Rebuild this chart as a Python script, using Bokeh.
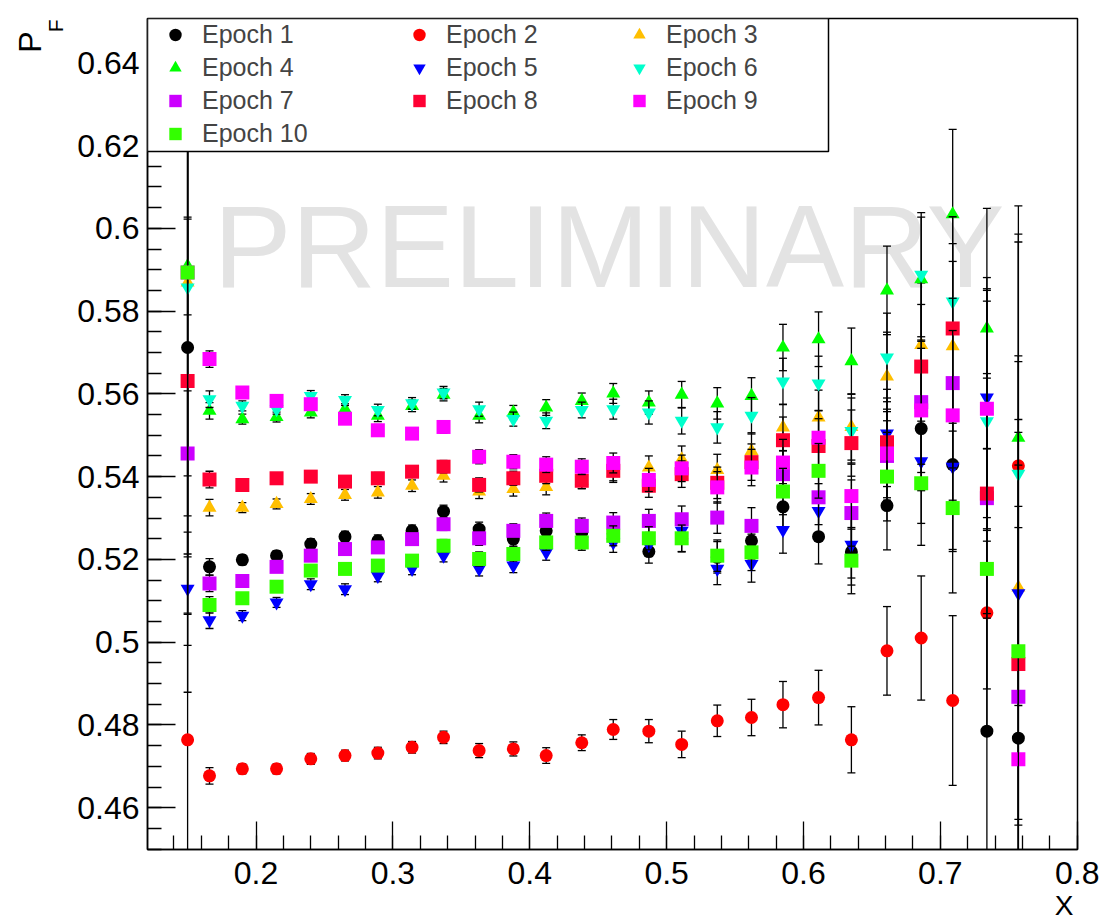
import numpy as np
from bokeh.plotting import figure
from bokeh.models import (Range1d, SingleIntervalTicker, CustomJSTickFormatter, ColumnDataSource,
                          Legend, LegendItem, Label, BoxAnnotation, Title)
from bokeh.embed import file_html
from bokeh.resources import INLINE

# ---------------- data ----------------
x_values = [0.150, 0.166, 0.190, 0.215, 0.240, 0.265, 0.289, 0.314, 0.337, 0.363,
            0.388, 0.412, 0.438, 0.461, 0.487, 0.511, 0.537, 0.562, 0.585, 0.611,
            0.635, 0.661, 0.686, 0.709, 0.734, 0.757]

epoch_labels = ["Epoch 1", "Epoch 2", "Epoch 3", "Epoch 4", "Epoch 5",
                "Epoch 6", "Epoch 7", "Epoch 8", "Epoch 9", "Epoch 10"]

pf_epoch1 = [0.5712, 0.5182, 0.5199, 0.5209, 0.5237, 0.5255, 0.5245, 0.5269, 0.5316, 0.5273,
             0.5249, 0.5269, 0.5265, 0.5262, 0.5219, 0.5250, 0.5205, 0.5245, 0.5327, 0.5255,
             0.5218, 0.5330, 0.5516, 0.5429, 0.4785, 0.4768]
pf_epoch2 = [0.4764, 0.4677, 0.4694, 0.4694, 0.4718, 0.4726, 0.4732, 0.4746, 0.4770, 0.4738,
             0.4742, 0.4726, 0.4757, 0.4789, 0.4785, 0.4753, 0.4810, 0.4818, 0.4849, 0.4866,
             0.4764, 0.4979, 0.5010, 0.4859, 0.5071, 0.5426]
pf_epoch3 = [0.5869, 0.5325, 0.5325, 0.5334, 0.5346, 0.5356, 0.5362, 0.5378, 0.5402, 0.5364,
             0.5370, 0.5375, 0.5390, 0.5410, 0.5422, 0.5442, 0.5416, 0.5462, 0.5519, 0.5543,
             0.5520, 0.5642, 0.5718, 0.5715, 0.5560, 0.5132]
pf_epoch4 = [0.5909, 0.5559, 0.5539, 0.5544, 0.5555, 0.5563, 0.5547, 0.5571, 0.5598, 0.5547,
             0.5555, 0.5567, 0.5583, 0.5601, 0.5579, 0.5598, 0.5577, 0.5595, 0.5712, 0.5732,
             0.5679, 0.5850, 0.5877, 0.6034, 0.5758, 0.5494]
pf_epoch5 = [0.5129, 0.5053, 0.5064, 0.5096, 0.5140, 0.5128, 0.5160, 0.5177, 0.5209, 0.5177,
             0.5185, 0.5217, 0.5245, 0.5241, 0.5235, 0.5269, 0.5177, 0.5189, 0.5271, 0.5317,
             0.5235, 0.5504, 0.5437, 0.5424, 0.5591, 0.5118]
pf_epoch6 = [0.5857, 0.5587, 0.5571, 0.5563, 0.5595, 0.5585, 0.5561, 0.5577, 0.5603, 0.5563,
             0.5539, 0.5535, 0.5561, 0.5563, 0.5555, 0.5535, 0.5519, 0.5547, 0.5630, 0.5625,
             0.5510, 0.5688, 0.5888, 0.5823, 0.5534, 0.5407]
pf_epoch7 = [0.5456, 0.5142, 0.5148, 0.5182, 0.5209, 0.5225, 0.5229, 0.5249, 0.5285, 0.5251,
             0.5269, 0.5293, 0.5281, 0.5289, 0.5293, 0.5297, 0.5301, 0.5281, 0.5406, 0.5350,
             0.5312, 0.5450, 0.5580, 0.5626, 0.5348, 0.4868]
pf_epoch8 = [0.5631, 0.5393, 0.5380, 0.5396, 0.5400, 0.5388, 0.5396, 0.5412, 0.5424, 0.5380,
             0.5396, 0.5402, 0.5390, 0.5414, 0.5378, 0.5406, 0.5385, 0.5435, 0.5488, 0.5474,
             0.5481, 0.5483, 0.5666, 0.5758, 0.5359, 0.4947]
pf_epoch9 = [0.5893, 0.5684, 0.5603, 0.5583, 0.5575, 0.5540, 0.5512, 0.5504, 0.5520, 0.5448,
             0.5436, 0.5429, 0.5424, 0.5433, 0.5392, 0.5420, 0.5374, 0.5422, 0.5434, 0.5494,
             0.5353, 0.5456, 0.5560, 0.5548, 0.5564, 0.4717]
pf_epoch10 = [0.5893, 0.5090, 0.5106, 0.5134, 0.5173, 0.5177, 0.5185, 0.5197, 0.5233, 0.5201,
              0.5213, 0.5241, 0.5241, 0.5257, 0.5251, 0.5251, 0.5209, 0.5217, 0.5364, 0.5414,
              0.5197, 0.5400, 0.5384, 0.5324, 0.5177, 0.4978]

# statistical error per x bin (same for every epoch), first bin given per epoch
err_by_x = [0.0035, 0.0020, 0.0012, 0.0012, 0.0013, 0.0013, 0.0014, 0.0014, 0.0015, 0.0017,
            0.0017, 0.0019, 0.0019, 0.0024, 0.0028, 0.0032, 0.0038, 0.0044, 0.0056, 0.0066,
            0.0080, 0.0107, 0.0150, 0.0205, 0.0290, 0.0560]
err_first_bin = [0.0310, 0.1600, 0.0656, 0.0118, 0.0137, 0.0651, 0.0151, 0.0564, 0.0823, 0.1014]

all_pf = [pf_epoch1, pf_epoch2, pf_epoch3, pf_epoch4, pf_epoch5,
          pf_epoch6, pf_epoch7, pf_epoch8, pf_epoch9, pf_epoch10]

marker_styles = [("circle", "#000000"), ("circle", "#ff0000"), ("triangle", "#ffbf00"),
                 ("triangle", "#00ff00"), ("inverted_triangle", "#0000ff"),
                 ("inverted_triangle", "#00ffcc"), ("square", "#cc00ff"), ("square", "#ff0033"),
                 ("square", "#ff00ff"), ("square", "#33ff00")]
marker_size = {"circle": 13, "triangle": 14, "inverted_triangle": 14, "square": 14}

FONT = "Liberation Sans"

# ---------------- figure ----------------
p = figure(width=1103, height=921,
           x_range=Range1d(0.1207, 0.8002), y_range=Range1d(0.4499, 0.6507),
           output_backend="svg", toolbar_location=None,
           min_border_left=147, min_border_right=26, min_border_top=18, min_border_bottom=72)
p.xgrid.visible = False
p.ygrid.visible = False
p.outline_line_color = "black"
p.outline_line_width = 1.5
p.background_fill_color = "white"
p.border_fill_color = "white"

fmt = CustomJSTickFormatter(code="return String(Math.round(tick*1000)/1000);")
for ax, ticker in ((p.xaxis[0], SingleIntervalTicker(interval=0.1, num_minor_ticks=5)),
                   (p.yaxis[0], SingleIntervalTicker(interval=0.02, num_minor_ticks=4))):
    ax.ticker = ticker
    ax.formatter = fmt
    ax.major_tick_in = 28
    ax.major_tick_out = 0
    ax.minor_tick_in = 14
    ax.minor_tick_out = 0
    ax.major_tick_line_width = 1.3
    ax.minor_tick_line_width = 1.3
    ax.axis_line_width = 1.5
    ax.major_label_text_font = FONT
    ax.major_label_text_font_size = "32px"
    ax.major_label_text_color = "black"
p.xaxis[0].major_label_standoff = 12
p.yaxis[0].major_label_standoff = 8

# watermark under the data
p.add_layout(Label(x=66, y=603, x_units="screen", y_units="screen", text="PRELIMINARY",
                   text_font=FONT, text_font_size="117px", text_color="#e3e3e3",
                   text_baseline="middle", level="underlay"))

scatter_renderers = []
for i, vals in enumerate(all_pf):
    marker, color = marker_styles[i]
    y = np.array(vals)
    e = np.array([err_first_bin[i]] + err_by_x[1:])
    src = ColumnDataSource(dict(x=x_values, y=vals, lo=list(y - e), hi=list(y + e)))
    p.segment(x0="x", y0="lo", x1="x", y1="hi", source=src, line_color="black", line_width=1.3)
    p.scatter(x="x", y="lo", source=src, marker="dash", size=8, line_color="black", line_width=1.3)
    p.scatter(x="x", y="hi", source=src, marker="dash", size=8, line_color="black", line_width=1.3)
    r = p.scatter(x="x", y="y", source=src, marker=marker, size=marker_size[marker],
                  fill_color=color, line_color=None)
    scatter_renderers.append(r)

# legend box
p.add_layout(BoxAnnotation(left=0, right=681, top=831, bottom=698,
                           left_units="screen", right_units="screen",
                           top_units="screen", bottom_units="screen",
                           fill_color="white", fill_alpha=1.0,
                           line_color="black", line_width=1.5, line_alpha=1.0))

legend_columns = [[0, 3, 6, 9], [1, 4, 7], [2, 5, 8]]
legend_lefts = [2, 246, 466]
for col, left in zip(legend_columns, legend_lefts):
    n = len(col)
    h = n * 31 + (n - 1) * 2
    items = [LegendItem(label=epoch_labels[k], renderers=[scatter_renderers[k]]) for k in col]
    lg = Legend(items=items, location=(left, 830.5 - h), orientation="vertical",
                border_line_color=None, background_fill_alpha=0.0, padding=0, spacing=2,
                margin=0, glyph_width=52, glyph_height=31, label_height=31, label_standoff=1,
                label_text_font=FONT, label_text_font_size="25px")
    p.add_layout(lg)

# axis titles (side-panel titles, so they are drawn outside the frame)
title_f = Title(text="F", align="right", vertical_align="bottom", standoff=16, offset=1,
                text_font=FONT, text_font_size="21px", text_font_style="normal",
                text_color="black")
title_p = Title(text="P", align="right", vertical_align="bottom", standoff=0, offset=13,
                text_font=FONT, text_font_size="32px", text_font_style="normal",
                text_color="black")
try:
    title_p.standoff = -29
except Exception:
    title_f.standoff = 0
    title_p.standoff = 0
p.add_layout(title_f, "left")
p.add_layout(title_p, "left")
p.add_layout(Title(text="X", align="right", vertical_align="bottom", standoff=2, offset=4,
                   text_font=FONT, text_font_size="28px", text_font_style="normal",
                   text_color="black"), "below")

open("out.html", "w").write(file_html(p, INLINE))
